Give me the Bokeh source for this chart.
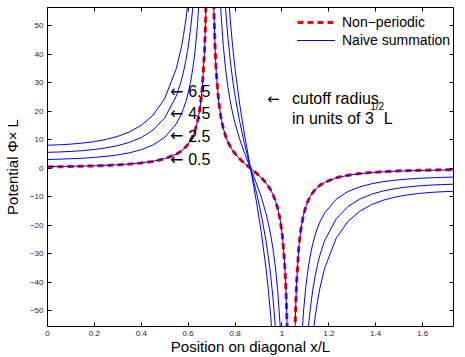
from bokeh.plotting import figure
from bokeh.models import Range1d, LinearAxis, FixedTicker, Label
from bokeh.embed import file_html
from bokeh.resources import INLINE

nan = float("nan")

# position on the cube diagonal, x/L (nan = break at the point charges)
x_pos = [0, 0.05, 0.1, 0.15, 0.2, 0.25, 0.3, 0.35, 0.4, 0.45, 0.5, 0.55, 0.57, 0.58, 0.59,
         0.6, 0.61, 0.62, 0.63, 0.64, 0.65, 0.66, 0.67, 0.675, 0.68, nan,
         0.705, 0.71, 0.715, 0.72, 0.73, 0.74, 0.75, 0.76, 0.77, 0.78, 0.79, 0.8, 0.82, 0.84, 0.866,
         0.892, 0.912, 0.932, 0.942, 0.952, 0.962, 0.972, 0.982, 0.992, 1.002, 1.012, 1.017, 1.022, 1.027, nan,
         1.052, 1.057, 1.062, 1.072, 1.082, 1.092, 1.102, 1.112, 1.122, 1.132, 1.142, 1.152, 1.162,
         1.182, 1.232, 1.282, 1.332, 1.382, 1.432, 1.482, 1.532, 1.582, 1.632, 1.682, 1.732]

non_periodic = [0.481, 0.545, 0.622, 0.718, 0.838, 0.991, 1.193, 1.466, 1.851, 2.421, 3.332, 4.958, 6.011, 6.686, 7.5,
                8.497, 9.744, 11.35, 13.48, 16.43, 20.78, 27.83, 41.11, 53.37, 75.2, nan,
                79.1, 55.17, 42.0, 33.66, 23.66, 17.85, 14.03, 11.3, 9.243, 7.61, 6.278, 5.15, 3.302, 1.775, 0,
                -1.775, -3.302, -5.15, -6.278, -7.61, -9.243, -11.3, -14.03, -17.85, -23.66, -33.66, -42.0, -55.17, -79.1, nan,
                -75.2, -53.37, -41.11, -27.83, -20.78, -16.43, -13.48, -11.35, -9.744, -8.497, -7.5, -6.686, -6.011,
                -4.958, -3.332, -2.421, -1.851, -1.466, -1.193, -0.991, -0.838, -0.718, -0.622, -0.545, -0.481]

naive_r05 = [0.57, 0.63, 0.70, 0.79, 0.905, 1.05, 1.25, 1.52, 1.90, 2.46, 3.37, 4.99, 6.04, 6.71, 7.53,
             8.52, 9.77, 11.37, 13.50, 16.45, 20.80, 27.85, 41.13, 53.39, 75.2, nan,
             79.1, 55.19, 42.02, 33.67, 23.67, 17.86, 14.04, 11.31, 9.25, 7.62, 6.29, 5.16, 3.31, 1.78, 0,
             -1.78, -3.31, -5.16, -6.29, -7.62, -9.25, -11.31, -14.04, -17.86, -23.67, -33.67, -42.02, -55.19, -79.1, nan,
             -75.2, -53.39, -41.13, -27.85, -20.80, -16.45, -13.50, -11.37, -9.77, -8.52, -7.53, -6.71, -6.04,
             -4.99, -3.37, -2.46, -1.90, -1.52, -1.25, -1.05, -0.905, -0.79, -0.70, -0.63, -0.57]

naive_r25 = [3.10, 3.20, 3.35, 3.54, 3.82, 4.19, 4.71, 5.45, 6.53, 8.17, 10.85, 15.72, 18.89, 20.93, 23.40,
             26.42, 30.20, 35.08, 41.56, 50.54, 63.79, 85.27, 125.4, 163.1, 229.7, nan,
             241.6, 168.6, 128.4, 102.9, 72.42, 54.68, 43.01, 34.67, 28.37, 23.37, 19.29, 15.83, 10.16, 5.46, 0,
             -5.46, -10.16, -15.83, -19.29, -23.37, -28.37, -34.67, -43.01, -54.68, -72.42, -102.9, -128.4, -168.6, -241.6, nan,
             -229.7, -163.1, -125.4, -85.27, -63.79, -50.54, -41.56, -35.08, -30.20, -26.42, -23.40, -20.93, -18.89,
             -15.72, -10.85, -8.17, -6.53, -5.45, -4.71, -4.19, -3.82, -3.54, -3.35, -3.20, -3.10]

naive_r45 = [5.60, 5.73, 5.92, 6.20, 6.60, 7.17, 7.97, 9.12, 10.82, 13.42, 17.70, 25.48, 30.56, 33.83, 37.79,
             42.63, 48.71, 56.54, 66.94, 81.35, 102.6, 137.1, 201.4, 262.2, 369.2, nan,
             388.2, 270.9, 206.4, 165.5, 116.4, 87.94, 69.18, 55.77, 45.65, 37.61, 31.05, 25.48, 16.35, 8.80, 0,
             -8.80, -16.35, -25.48, -31.05, -37.61, -45.65, -55.77, -69.18, -87.94, -116.4, -165.5, -206.4, -270.9, -388.2, nan,
             -369.2, -262.2, -201.4, -137.1, -102.6, -81.35, -66.94, -56.54, -48.71, -42.63, -37.79, -33.83, -30.56,
             -25.48, -17.70, -13.42, -10.82, -9.12, -7.97, -7.17, -6.60, -6.20, -5.92, -5.73, -5.60]

naive_r65 = [8.10, 8.25, 8.49, 8.86, 9.38, 10.14, 11.22, 12.78, 15.09, 18.65, 24.51, 35.19, 42.18, 46.67, 52.10,
             58.76, 67.11, 77.88, 92.18, 112.0, 141.3, 188.7, 277.2, 360.8, 507.9, nan,
             534.0, 372.7, 283.9, 227.7, 160.2, 121.0, 95.21, 76.75, 62.84, 51.77, 42.74, 35.08, 22.51, 12.11, 0,
             -12.11, -22.51, -35.08, -42.74, -51.77, -62.84, -76.75, -95.21, -121.0, -160.2, -227.7, -283.9, -372.7, -534.0, nan,
             -507.9, -360.8, -277.2, -188.7, -141.3, -112.0, -92.18, -77.88, -67.11, -58.76, -52.10, -46.67, -42.18,
             -35.19, -24.51, -18.65, -15.09, -12.78, -11.22, -10.14, -9.38, -8.86, -8.49, -8.25, -8.10]

cutoff_labels = ["6.5", "4.5", "2.5", "0.5"]

x_ticks = [0, 0.2, 0.4, 0.6, 0.8, 1, 1.2, 1.4, 1.6]
x_tick_labels = ["0", "0.2", "0.4", "0.6", "0.8", "1", "1.2", "1.4", "1.6"]
y_ticks = [-50, -40, -30, -20, -10, 0, 10, 20, 30, 40, 50]
y_tick_labels = ["\u221250", "\u221240", "\u221230", "\u221220", "\u221210", "0", "10", "20", "30", "40", "50"]

FONT = "Liberation Sans"
ARROW_FONT = "DejaVu Sans"

p = figure(width=465, height=357, output_backend="svg", toolbar_location=None,
           x_range=Range1d(0, 1.732), y_range=Range1d(-55.6, 56.5),
           min_border_left=47, min_border_right=12, min_border_top=7, min_border_bottom=30)
p.grid.visible = False
p.outline_line_color = None
p.background_fill_color = "white"

# lines
p.line(x_pos, non_periodic, line_color="#ff0000", line_width=3, line_dash="6 4",
       legend_label="Non\u2212periodic")
for ys in (naive_r05, naive_r25, naive_r45, naive_r65):
    p.line(x_pos, ys, line_color="#0000ff", line_width=1, legend_label="Naive summation")

# axes
def style_axis(ax, ticks, labels=None):
    ax.ticker = FixedTicker(ticks=ticks)
    ax.major_tick_in = 4
    ax.major_tick_out = 0
    ax.minor_tick_in = 0
    ax.minor_tick_out = 0
    ax.axis_line_color = "black"
    ax.major_tick_line_color = "black"
    ax.axis_line_width = 1
    if labels is None:
        ax.major_label_text_font_size = "0px"
        ax.major_label_text_color = None
        ax.major_label_standoff = 0
    else:
        ax.major_label_overrides = dict(zip(ticks, labels))
        ax.major_label_text_font = FONT
        ax.major_label_text_font_size = "8px"
        ax.major_label_text_color = "#262626"
        ax.axis_label_text_font = FONT
        ax.axis_label_text_font_size = "15px"
        ax.axis_label_text_font_style = "normal"
        ax.axis_label_text_color = "black"

xa = p.xaxis[0]
style_axis(xa, x_ticks, x_tick_labels)
xa.axis_label = "Position on diagonal x/L"
xa.major_label_standoff = 4
xa.axis_label_standoff = -1

ya = p.yaxis[0]
style_axis(ya, y_ticks, y_tick_labels)
ya.axis_label = "Potential \u03a6\u00d7 L"
ya.major_label_standoff = 4
ya.axis_label_standoff = 6

top = LinearAxis()
style_axis(top, x_ticks)
p.add_layout(top, "above")
right = LinearAxis()
style_axis(right, y_ticks)
p.add_layout(right, "right")

# annotations: cutoff radius labels
label_y = [27.1, 19.3, 11.4, 3.2]
for txt, yy in zip(cutoff_labels, label_y):
    p.add_layout(Label(x=0.523, y=yy, text="\u2190", text_font=ARROW_FONT, text_font_size="16px",
                       text_baseline="middle", text_color="black"))
    p.add_layout(Label(x=0.6, y=yy, text=txt, text_font=FONT, text_font_size="16px",
                       text_baseline="middle", text_color="black"))
p.add_layout(Label(x=0.936, y=24.4, text="\u2190", text_font=ARROW_FONT, text_font_size="15px",
                   text_baseline="middle", text_color="black"))
p.add_layout(Label(x=1.043, y=24.4, text="cutoff radius", text_font=FONT, text_font_size="16px",
                   text_baseline="middle", text_color="black"))
p.add_layout(Label(x=1.043, y=17.6, text="in units of 3", text_font=FONT, text_font_size="16px",
                   text_baseline="middle", text_color="black"))
p.add_layout(Label(x=1.377, y=21.6, text="1/2", text_font=FONT, text_font_size="10px",
                   text_baseline="middle", text_color="black"))
p.add_layout(Label(x=1.434, y=17.6, text="L", text_font=FONT, text_font_size="16px",
                   text_baseline="middle", text_color="black"))

# legend
lg = p.legend[0]
lg.location = (250, 277)
lg.border_line_color = None
lg.background_fill_alpha = 0
lg.padding = 0
lg.margin = 0
lg.spacing = 0
lg.label_text_font = FONT
lg.label_text_font_size = "14px"
lg.label_text_color = "black"
lg.glyph_width = 38
lg.glyph_height = 18
lg.label_height = 18
lg.label_standoff = 7

open("out.html", "w").write(file_html(p, INLINE))
